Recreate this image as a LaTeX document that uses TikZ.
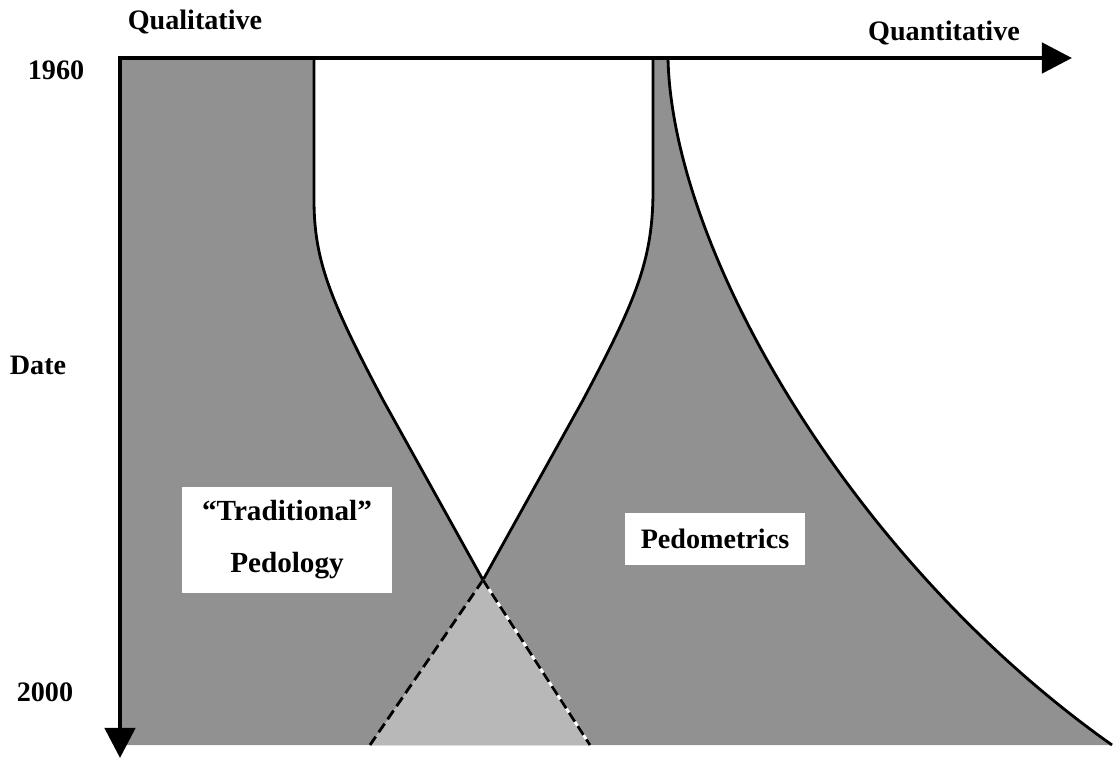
\documentclass[tikz,border=0pt]{standalone}
\usepackage{fontspec}
\setmainfont{Liberation Serif}
\usepackage{xcolor}
\usetikzlibrary{arrows.meta}

\definecolor{shadegray}{gray}{0.57}
\definecolor{overlapgray}{gray}{0.72}

\begin{document}
\begin{tikzpicture}[x=0.01cm, y=-0.01cm,
    axis/.style={line width=1.3pt, {Triangle[length=3mm,width=3mm]}-{Triangle[length=3mm,width=3mm]}},
    edge/.style={line width=0.8pt},
    tag/.style={font=\fontsize{8}{10}\selectfont\bfseries},
    whitebox/.style={fill=white, tag, align=center, inner sep=0pt}]

    \useasboundingbox (0,0) rectangle (1118,761);

    % Key points
    \coordinate (origin) at (120,58);
    \coordinate (xend) at (1072,58);
    \coordinate (yend) at (120,758);
    \coordinate (cross) at (483,580);
    \coordinate (leftfoot) at (370,745);
    \coordinate (rightfoot) at (590,745);
    \coordinate (farfoot) at (1112,745);

    % Traditional pedology region
    \fill[shadegray] (origin) -- (314,58) -- (314,200)
        .. controls (314,260) and (330,300) .. (383,400) -- (cross)
        -- (rightfoot) -- (120,745) -- cycle;

    % Pedometrics region
    \fill[shadegray] (653,58) -- (653,190)
        .. controls (653,260) and (636,300) .. (583,400) -- (cross)
        -- (leftfoot) -- (farfoot)
        .. controls (850,560) and (672,250) .. (668,58) -- cycle;

    % Overlap of the two
    \fill[overlapgray] (cross) -- (leftfoot) -- (rightfoot) -- cycle;

    % Boundary lines
    \draw[edge] (314,58) -- (314,200)
        .. controls (314,260) and (330,300) .. (383,400) -- (cross);
    \draw[edge] (653,58) -- (653,190)
        .. controls (653,260) and (636,300) .. (583,400) -- (cross);
    \draw[edge] (668,58) .. controls (672,250) and (850,560) .. (farfoot);

    % Dashed continuations below the crossing
    \draw[edge, dash pattern=on 3pt off 1.5pt] (cross) -- (leftfoot);
    \draw[edge, white] (cross) -- (rightfoot);
    \draw[edge, dash pattern=on 3pt off 1.5pt] (cross) -- (rightfoot);

    % Axes
    \draw[axis] (xend) -- (origin) -- (yend);

    % Axis labels
    \node[tag] (qual) at (195,22) {Qualitative};
    \node[tag] (quant) at (944,33) {Quantitative};
    \node[tag] (y1960) at (56,70) {1960};
    \node[tag] (date) at (38,365) {Date};
    \node[tag] (y2000) at (45,692) {2000};

    % Region labels
    \node[whitebox, minimum width=2.1cm, minimum height=1.05cm,
        font=\fontsize{8.3}{14.8}\selectfont\bfseries] (trad) at (287,540)
        {“Traditional”\\Pedology};
    \node[whitebox, minimum width=1.8cm, minimum height=0.52cm] (pedo) at (715,539)
        {Pedometrics};

\end{tikzpicture}
\end{document}
